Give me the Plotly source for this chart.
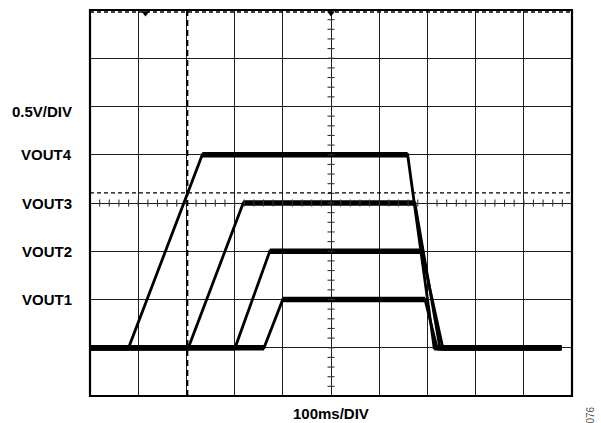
import plotly.graph_objects as go

# Time base (ms) and channel voltages (V) for the four sequenced rails
vout4_t = [0, 80, 233, 659, 714, 978]
vout4_v = [0, 0, 2.0, 2.0, 0, 0]
vout3_t = [0, 204, 318, 674, 726, 978]
vout3_v = [0, 0, 1.5, 1.5, 0, 0]
vout2_t = [0, 301, 373, 688, 732, 978]
vout2_v = [0, 0, 1.0, 1.0, 0, 0]
vout1_t = [0, 361, 400, 695, 720, 978]
vout1_v = [0, 0, 0.5, 0.5, 0, 0]

channel_names = ["VOUT4", "VOUT3", "VOUT2", "VOUT1"]
channel_label_v = [2.0, 1.5, 1.0, 0.5]
scale_label = "0.5V/DIV"
time_label = "100ms/DIV"

# Scope screen: 10 x 8 divisions, 100 ms/div and 0.5 V/div
x_range = [0, 1000]
y_range = [-0.5, 3.5]
x_div, y_div = 100, 0.5
x_center, y_center = 500, 1.5

# Cursors and markers
cursor_t = 202
cursor_v = 1.605
top_trace_v = 3.48
marker_t = [115, 500]

W, H = 601, 423
ML, MR, MT, MB = 90, 29, 10, 27

fig = go.Figure()

traces = [(vout4_t, vout4_v), (vout3_t, vout3_v), (vout2_t, vout2_v), (vout1_t, vout1_v)]

for t, v in traces:
    # full waveform (ramps)
    fig.add_trace(go.Scatter(x=t, y=v, mode="lines",
                             line=dict(color="black", width=2.8),
                             hoverinfo="skip", showlegend=False))
    # noisy flat portions appear thicker on the scope
    xs = [t[0], t[1], None, t[2], t[3], None, t[4], t[5]]
    ys = [v[0], v[1], None, v[2], v[3], None, v[4], v[5]]
    fig.add_trace(go.Scatter(x=xs, y=ys, mode="lines",
                             line=dict(color="black", width=5.5),
                             hoverinfo="skip", showlegend=False))

# minor ticks on the centre graticule lines
minor_x = [i * x_div / 5 for i in range(1, 50)]
minor_y = [y_range[0] + i * y_div / 5 for i in range(1, 40)]
fig.add_trace(go.Scatter(x=minor_x, y=[y_center] * len(minor_x), mode="markers",
                         marker=dict(symbol="line-ns", size=5,
                                     line=dict(color="#333", width=1.1)),
                         hoverinfo="skip", showlegend=False))
fig.add_trace(go.Scatter(x=[x_center] * len(minor_y), y=minor_y, mode="markers",
                         marker=dict(symbol="line-ew", size=5,
                                     line=dict(color="#333", width=1.1)),
                         hoverinfo="skip", showlegend=False))

# trigger / position markers at the top edge
fig.add_trace(go.Scatter(x=marker_t, y=[top_trace_v - 0.01] * len(marker_t), mode="markers",
                         marker=dict(symbol="triangle-down", size=7, color="black"),
                         hoverinfo="skip", showlegend=False))

shapes = []
# dashed trace along top edge
shapes.append(dict(type="line", xref="x", yref="y", x0=x_range[0], x1=x_range[1],
                   y0=top_trace_v, y1=top_trace_v,
                   line=dict(color="black", width=1.5, dash="4px,3px")))
# horizontal dashed cursor
shapes.append(dict(type="line", xref="x", yref="y", x0=x_range[0], x1=x_range[1],
                   y0=cursor_v, y1=cursor_v,
                   line=dict(color="black", width=1.4, dash="4px,3px")))
# vertical dashed cursor
shapes.append(dict(type="line", xref="x", yref="y", x0=cursor_t, x1=cursor_t,
                   y0=y_range[0], y1=y_range[1],
                   line=dict(color="black", width=2, dash="6px,4px")))
# screen border
shapes.append(dict(type="rect", xref="paper", yref="paper", x0=0, x1=1, y0=0, y1=1,
                   line=dict(color="black", width=2.2)))

font = dict(family="Liberation Sans, Arial, sans-serif", size=15, color="black")
annotations = []
label_x = -16 / (W - ML - MR)
for name, v in zip(channel_names, channel_label_v):
    annotations.append(dict(text=f"<b>{name}</b>", xref="paper", yref="y",
                            x=label_x, y=v, xanchor="right", yanchor="middle",
                            showarrow=False, font=font))
annotations.append(dict(text=f"<b>{scale_label}</b>", xref="paper", yref="y",
                        x=label_x, y=2.45, xanchor="right", yanchor="middle",
                        showarrow=False, font=font))
annotations.append(dict(text=f"<b>{time_label}</b>", xref="x", yref="paper",
                        x=x_center, y=-(413 - (H - MB)) / (H - MT - MB),
                        xanchor="center", yanchor="middle",
                        showarrow=False, font=font))
annotations.append(dict(text="076", xref="paper", yref="paper",
                        x=(590 - ML) / (W - ML - MR), y=-(426 - (H - MB)) / (H - MT - MB),
                        xanchor="center", yanchor="bottom", textangle=-90,
                        showarrow=False,
                        font=dict(family="Liberation Sans, Arial, sans-serif",
                                  size=10, color="#555")))

fig.update_layout(
    width=W, height=H, autosize=False,
    margin=dict(l=ML, r=MR, t=MT, b=MB, pad=0),
    paper_bgcolor="white", plot_bgcolor="white",
    shapes=shapes, annotations=annotations,
    xaxis=dict(range=x_range, dtick=x_div, tick0=0, showgrid=True,
               gridcolor="#1e1e1e", gridwidth=1.4, zeroline=False,
               showticklabels=False, ticks="", fixedrange=True),
    yaxis=dict(range=y_range, dtick=y_div, tick0=y_range[0], showgrid=True,
               gridcolor="#1e1e1e", gridwidth=1.4, zeroline=False,
               showticklabels=False, ticks="", fixedrange=True),
)

fig.write_html("out.html")
